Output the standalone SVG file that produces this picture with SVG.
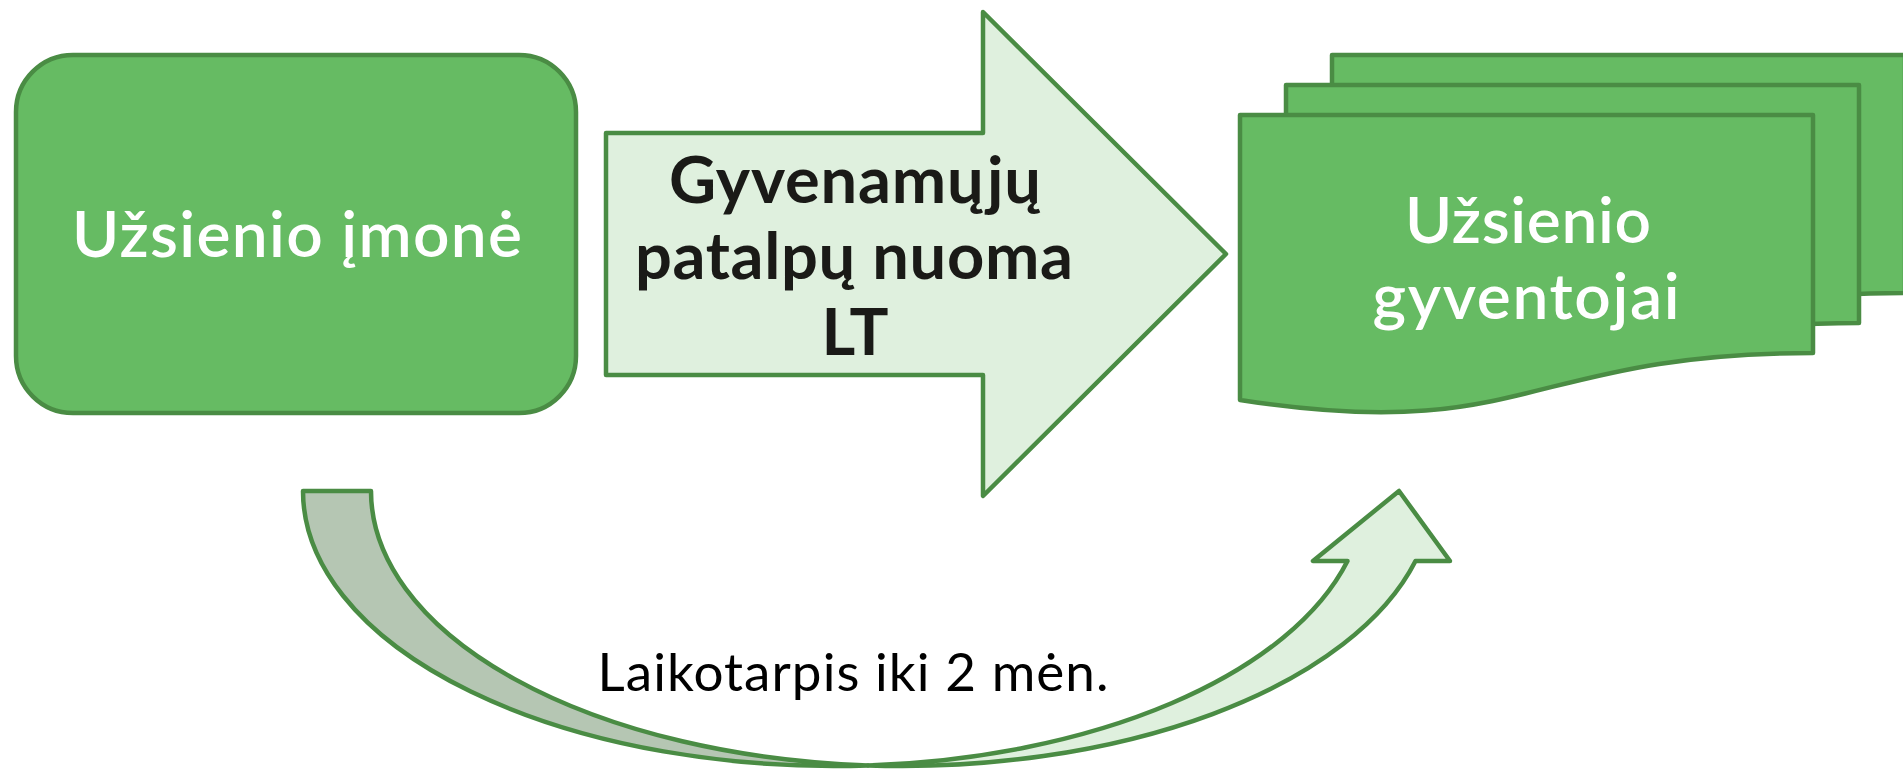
<svg xmlns="http://www.w3.org/2000/svg" width="1903" height="770" viewBox="0 0 1903 770">
  <style>
    .shape { stroke: #4a8c44; stroke-width: 4.5; stroke-linejoin: round; }
    .dark { fill: #66bb63; }
    .light { fill: #dff0de; }
    .shade { fill: #b5c6b3; }
    .wtxt { font-family: Lato, "Noto Sans", "Liberation Sans", sans-serif; font-size: 64px; font-weight: 600; fill: #ffffff; text-anchor: middle; }
    .btxt { font-family: Lato, "Noto Sans", "Liberation Sans", sans-serif; font-size: 65px; font-weight: bold; fill: #1a1a17; text-anchor: middle; }
    .ltxt { font-family: Lato, "Noto Sans", "Liberation Sans", sans-serif; font-size: 53px; font-weight: 400; fill: #000000; text-anchor: middle; }
  </style>
  <rect width="1903" height="770" fill="#ffffff"/>

  <g id="node-company">
    <rect class="shape dark" x="16" y="55" width="560" height="358" rx="57" ry="57"/>
    <text class="wtxt" x="297" y="257" textLength="450" lengthAdjust="spacing">Užsienio įmonė</text>
  </g>

  <g id="node-rental">
    <polygon class="shape light" points="606,133 983,133 983,12 1226,254 983,496 983,375 606,375"/>
    <text class="btxt" x="855" y="203" textLength="372" lengthAdjust="spacing">Gyvenamųjų</text>
    <text class="btxt" x="854" y="279" textLength="438" lengthAdjust="spacing">patalpų nuoma</text>
    <text class="btxt" x="855" y="355">LT</text>
  </g>

  <g id="node-residents">
    <path class="shape dark" d="M1332,55 H1905 V293 C1618,293 1618,385 1332,340 Z"/>
    <path class="shape dark" d="M1286,85 H1859 V323 C1572,323 1572,415 1286,370 Z"/>
    <path class="shape dark" d="M1240,115 H1813 V353 C1526,353 1526,445 1240,400 Z"/>
    <text class="wtxt" x="1528" y="243" textLength="246" lengthAdjust="spacing">Užsienio</text>
    <text class="wtxt" x="1526" y="319" textLength="307" lengthAdjust="spacing">gyventojai</text>
  </g>

  <g id="connectors">
    <path class="shape shade" d="M303,491 A531,275 0 0 0 868,765.4 A531,275 0 0 1 371,491 Z"/>
    <path class="shape light" d="M868,765.4 A531,275 0 0 0 1415.5,561 L1450,561 L1399,491 L1313,561 L1347.5,561 A531,275 0 0 1 868,765.4 Z"/>
    <text class="ltxt" x="853" y="691" textLength="511" lengthAdjust="spacing">Laikotarpis iki 2 mėn.</text>
  </g>
</svg>
